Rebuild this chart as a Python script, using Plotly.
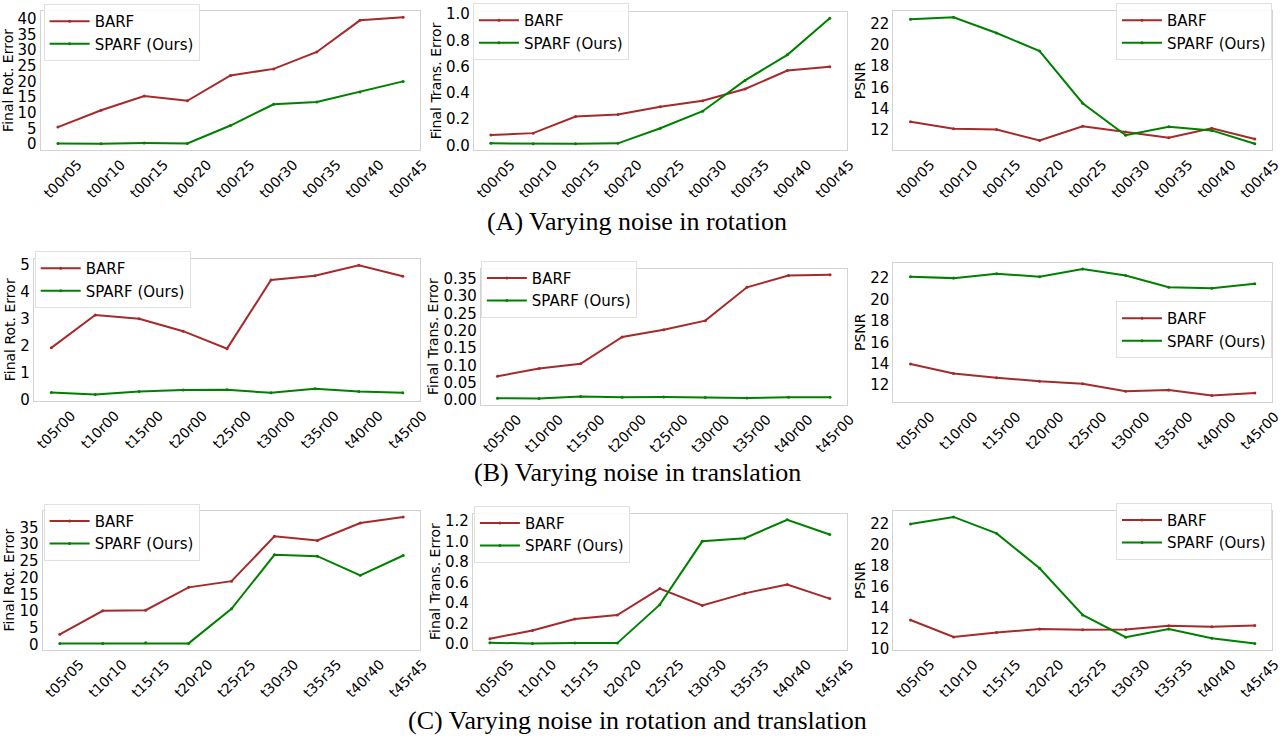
import plotly.graph_objects as go

# ---- categories ----
rot_cats = ["t00r05", "t00r10", "t00r15", "t00r20", "t00r25", "t00r30", "t00r35", "t00r40", "t00r45"]
trans_cats = ["t05r00", "t10r00", "t15r00", "t20r00", "t25r00", "t30r00", "t35r00", "t40r00", "t45r00"]
both_cats = ["t05r05", "t10r10", "t15r15", "t20r20", "t25r25", "t30r30", "t35r35", "t40r40", "t45r45"]

# ---- (A) rotation noise ----
a_rot_barf = [5.4, 10.8, 15.3, 13.8, 21.9, 24.0, 29.4, 39.5, 40.5]
a_rot_sparf = [0.2, 0.1, 0.3, 0.2, 5.9, 12.7, 13.4, 16.6, 20.0]
a_trans_barf = [0.078, 0.093, 0.22, 0.235, 0.295, 0.34, 0.43, 0.57, 0.60]
a_trans_sparf = [0.015, 0.012, 0.012, 0.015, 0.13, 0.26, 0.495, 0.69, 0.97]
a_psnr_barf = [12.76, 12.1, 12.03, 11.0, 12.34, 11.8, 11.25, 12.15, 11.15]
a_psnr_sparf = [22.4, 22.58, 21.1, 19.4, 14.5, 11.5, 12.3, 11.95, 10.7]

# ---- (B) translation noise ----
b_rot_barf = [1.92, 3.14, 3.0, 2.54, 1.89, 4.44, 4.6, 4.99, 4.58]
b_rot_sparf = [0.26, 0.19, 0.30, 0.35, 0.36, 0.25, 0.40, 0.30, 0.25]
b_trans_barf = [0.069, 0.091, 0.105, 0.182, 0.203, 0.229, 0.325, 0.359, 0.361]
b_trans_sparf = [0.0057, 0.0047, 0.0104, 0.0085, 0.0095, 0.0076, 0.0066, 0.0085, 0.0085]
b_psnr_barf = [13.97, 13.09, 12.7, 12.36, 12.12, 11.42, 11.55, 11.03, 11.27]
b_psnr_sparf = [22.12, 22.0, 22.42, 22.12, 22.85, 22.24, 21.15, 21.06, 21.48]

# ---- (C) rotation and translation noise ----
c_rot_barf = [3.1, 10.1, 10.3, 17.1, 18.95, 32.3, 31.1, 36.3, 38.1]
c_rot_sparf = [0.4, 0.4, 0.6, 0.4, 10.7, 26.8, 26.4, 20.7, 26.6]
c_trans_barf = [0.053, 0.132, 0.245, 0.283, 0.54, 0.377, 0.494, 0.58, 0.443]
c_trans_sparf = [0.013, 0.006, 0.01, 0.01, 0.384, 1.0, 1.03, 1.21, 1.066]
c_psnr_barf = [12.8, 11.18, 11.6, 11.93, 11.87, 11.9, 12.24, 12.15, 12.27]
c_psnr_sparf = [22.0, 22.68, 21.1, 17.76, 13.28, 11.15, 11.93, 11.06, 10.56]

captions = [
    "(A) Varying noise in rotation",
    "(B) Varying noise in translation",
    "(C) Varying noise in rotation and translation",
]

W, H = 1283, 742
BARF_COLOR = "#a52a2a"
SPARF_COLOR = "#008000"
SPINE = "#d3d3d3"
FONT = "DejaVu Sans, Verdana, sans-serif"

# panel boxes in pixels: (left, right, top, bottom)
boxes = [
    (40, 423, 5, 147), (477, 853, 6, 147), (900, 1282, 5, 147),
    (33, 423, 258, 403), (484, 853, 268, 407), (900, 1282, 262, 404),
    (42, 423, 515, 657), (476, 853, 518, 657), (900, 1282, 515, 657),
]
# legend anchor: (x px, y px, xanchor)
legend_pos = [
    (43, 6, "left"), (476, 5, "left"), (1282, 5, "right"),
    (34, 258, "left"), (484, 268, "left"), (1282, 309, "right"),
    (43, 516, "left"), (477, 518, "left"), (1282, 515, "right"),
]
LEGEND_LIFT = 8  # px
caption_y = [220, 476, 729]  # px, vertical centre of each caption

panels = [
    (rot_cats, a_rot_barf, a_rot_sparf, "Final Rot. Error", 5, "d"),
    (rot_cats, a_trans_barf, a_trans_sparf, "Final Trans. Error", 0.2, ".1f"),
    (rot_cats, a_psnr_barf, a_psnr_sparf, "PSNR", 2, "d"),
    (trans_cats, b_rot_barf, b_rot_sparf, "Final Rot. Error", 1, "d"),
    (trans_cats, b_trans_barf, b_trans_sparf, "Final Trans. Error", 0.05, ".2f"),
    (trans_cats, b_psnr_barf, b_psnr_sparf, "PSNR", 2, "d"),
    (both_cats, c_rot_barf, c_rot_sparf, "Final Rot. Error", 5, "d"),
    (both_cats, c_trans_barf, c_trans_sparf, "Final Trans. Error", 0.2, ".1f"),
    (both_cats, c_psnr_barf, c_psnr_sparf, "PSNR", 2, "d"),
]

fig = go.Figure()
layout = {}

for i, (cats, barf, sparf, ytitle, dtick, fmt) in enumerate(panels):
    n = i + 1
    sfx = "" if n == 1 else str(n)
    leg = "legend" if n == 1 else f"legend{n}"
    l, r, t, b = boxes[i]

    # matplotlib-style 5% data margins
    lo = min(barf + sparf)
    hi = max(barf + sparf)
    pad = 0.05 * (hi - lo)

    fig.add_trace(go.Scatter(
        x=cats, y=barf, name="BARF", mode="lines+markers",
        line=dict(color=BARF_COLOR, width=2), marker=dict(size=3, color=BARF_COLOR),
        xaxis=f"x{sfx}", yaxis=f"y{sfx}", legend=leg,
    ))
    fig.add_trace(go.Scatter(
        x=cats, y=sparf, name="SPARF (Ours)", mode="lines+markers",
        line=dict(color=SPARF_COLOR, width=2), marker=dict(size=3, color=SPARF_COLOR),
        xaxis=f"x{sfx}", yaxis=f"y{sfx}", legend=leg,
    ))

    layout[f"xaxis{sfx}"] = dict(
        domain=[l / W, r / W], anchor=f"y{sfx}",
        type="category", range=[-0.4, len(cats) - 1 + 0.4],
        showline=True, mirror=True, linecolor=SPINE, linewidth=1,
        showgrid=False, zeroline=False, ticks="",
        tickangle=-45, ticklabelshift=20,
        tickfont=dict(family=FONT, size=14, color="black"),
    )
    layout[f"yaxis{sfx}"] = dict(
        domain=[1 - b / H, 1 - t / H], anchor=f"x{sfx}",
        range=[lo - pad, hi + pad],
        tick0=0, dtick=dtick, tickformat=fmt,
        showline=True, mirror=True, linecolor=SPINE, linewidth=1,
        showgrid=False, zeroline=False, ticks="",
        tickfont=dict(family=FONT, size=15, color="black"),
        title=dict(text=ytitle, font=dict(family=FONT, size=14, color="black"), standoff=1),
    )
    lx, ly, xa = legend_pos[i]
    layout[leg] = dict(
        x=lx / W, y=1 - (ly - LEGEND_LIFT) / H, xanchor=xa, yanchor="top",
        bgcolor="rgba(255,255,255,0.85)", bordercolor="#e0e0e0", borderwidth=1,
        font=dict(family=FONT, size=15, color="black"),
        itemwidth=40, tracegroupgap=0,
    )

annotations = []
for cap, yc in zip(captions, caption_y):
    annotations.append(dict(
        text=cap, x=0.5, y=1 - yc / H, xref="paper", yref="paper",
        xanchor="center", yanchor="middle", showarrow=False,
        font=dict(family="Liberation Serif, Times New Roman, serif", size=26, color="black"),
    ))

fig.update_layout(
    width=W, height=H, margin=dict(l=0, r=0, t=0, b=0),
    paper_bgcolor="white", plot_bgcolor="white",
    showlegend=True, annotations=annotations, **layout,
)

fig.write_html("out.html")
